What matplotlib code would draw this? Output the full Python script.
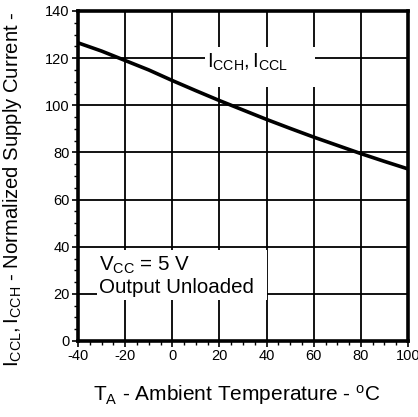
import numpy as np
import matplotlib
matplotlib.use("Agg")
import matplotlib.pyplot as plt
from matplotlib.ticker import MultipleLocator
from matplotlib.patches import Rectangle

plt.rcParams['font.family'] = ['Liberation Sans', 'DejaVu Sans']
plt.rcParams['mathtext.fontset'] = 'custom'
plt.rcParams['mathtext.rm'] = 'Liberation Sans'
plt.rcParams['mathtext.it'] = 'Liberation Sans'
plt.rcParams['axes.unicode_minus'] = False

# curve
temp = [-40, -30, -20, -10, 0, 10, 20, 25, 30, 40, 50, 60, 70, 80, 90, 100]
icc = [126.5, 123, 119, 115, 110.5, 106.2, 102, 100, 98, 94, 90.2, 86.5, 83, 79.5, 76.2, 73]

fig = plt.figure(figsize=(4.18, 4.17), dpi=100)
ax = fig.add_axes([78/418, 1-341/417, 330/418, 330/417])

ax.plot(temp, icc, color='black', lw=2.6, zorder=3)

ax.set_xlim(-40, 100)
ax.set_ylim(0, 140)
ax.xaxis.set_major_locator(MultipleLocator(20))
ax.xaxis.set_minor_locator(MultipleLocator(5))
ax.yaxis.set_major_locator(MultipleLocator(20))
ax.yaxis.set_minor_locator(MultipleLocator(5))
ax.grid(True, which='major', color='black', lw=1.3)
ax.tick_params(which='major', direction='out', length=4, width=1.2, labelsize=10.5, pad=2)
ax.tick_params(which='minor', direction='out', length=3, width=1.0)
for s in ax.spines.values():
    s.set_linewidth(2.6)

# white label boxes breaking the grid
ax.add_patch(Rectangle((13.9, 107.8), 46.6, 16.9, facecolor='white', edgecolor='none', zorder=2.5))
ax.add_patch(Rectangle((-31.9, 17.4), 72.1, 21.2, facecolor='white', edgecolor='none', zorder=2.5))

ax.text(14.6, 118.2, r'$\mathregular{I_{CCH}, I_{CCL}}$', fontsize=14.5, ha='left', va='center', zorder=4)
ax.text(-31.2, 32.2, 'V$\\mathregular{_{CC}}$ = 5 V', fontsize=14.8, ha='left', va='center', zorder=4)
ax.text(-31.2, 22.9, 'Output Unloaded', fontsize=14.8, ha='left', va='center', zorder=4)

ax.set_xlabel(r'T$\mathregular{_A}$ - Ambient Temperature - $\mathregular{^o}$C', fontsize=15)
ax.xaxis.set_label_coords(0.48, -0.128)
ax.set_ylabel(r'$\mathregular{I_{CCL}, I_{CCH}}$ - Normalized Supply Current -', fontsize=14.6)
ax.yaxis.set_label_coords(-0.165, 0.46)

fig.savefig('out.png', dpi=100)
